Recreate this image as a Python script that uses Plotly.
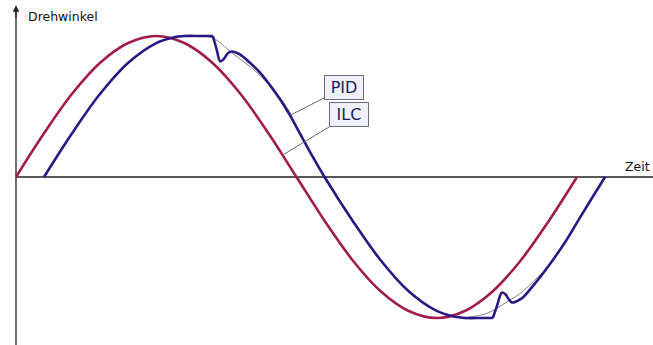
import numpy as np
import plotly.graph_objects as go

# ---------------- data (time as fraction of one period, angle normalised) ----
# ILC response (red)
t_ilc = [0.00, 0.05, 0.10, 0.15, 0.20, 0.25, 0.30, 0.35, 0.40, 0.45, 0.50,
         0.55, 0.60, 0.65, 0.70, 0.75, 0.80, 0.85, 0.90, 0.95, 1.00]
y_ilc = [0.00, 0.31, 0.59, 0.81, 0.95, 1.00, 0.95, 0.81, 0.59, 0.31, 0.00,
         -0.31, -0.59, -0.81, -0.95, -1.00, -0.95, -0.81, -0.59, -0.31, 0.00]

# PID response (blue) - rising part up to the end of the saturated top
t_pid_a = [0.05, 0.10, 0.15, 0.20, 0.25, 0.28, 0.30, 0.33, 0.351]
y_pid_a = [0.00, 0.31, 0.59, 0.81, 0.95, 0.99, 1.00, 1.00, 1.00]

# PID - drop, overshoot, descent and saturated bottom
t_pid_b = [0.351, 0.358, 0.364, 0.371, 0.378, 0.385, 0.399, 0.417, 0.435,
           0.453, 0.471, 0.488, 0.506, 0.528, 0.550, 0.600, 0.650, 0.700,
           0.750, 0.780, 0.800, 0.830, 0.850]
y_pid_b = [1.00, 0.90, 0.82, 0.84, 0.88, 0.89, 0.87, 0.81, 0.74,
           0.65, 0.55, 0.44, 0.31, 0.15, 0.00, -0.31, -0.59, -0.81,
           -0.95, -0.99, -1.00, -1.00, -1.00]

# PID - overshoot after bottom and final rise
t_pid_c = [0.850, 0.857, 0.863, 0.866, 0.872, 0.879, 0.884, 0.893, 0.902,
           0.922, 0.943, 0.964, 0.984, 1.005, 1.027, 1.050]
y_pid_c = [-1.00, -0.92, -0.84, -0.82, -0.83, -0.87, -0.89, -0.88, -0.86,
           -0.77, -0.665, -0.55, -0.43, -0.29, -0.147, 0.00]

# thin grey guide curves (smooth path without overshoot)
t_guide_top = [0.324, 0.351, 0.385, 0.435, 0.480, 0.492]
y_guide_top = [1.00, 0.985, 0.88, 0.72, 0.51, 0.43]
t_guide_bot = [0.806, 0.841, 0.872, 0.902, 0.925, 0.948]
y_guide_bot = [-0.995, -0.965, -0.894, -0.816, -0.730, -0.640]

x_label = "Zeit"
y_label = "Drehwinkel"
labels = ["PID", "ILC"]

# ---------------- styling ----------------
RED = "#a01c4b"
BLUE = "#2b1784"
GREY = "#808080"
AXIS = "#222222"

X_RANGE = [-0.0285, 1.1355]
Y_RANGE = [-1.1915, 1.2553]

fig = go.Figure()

for tx, ty in [(t_guide_top, y_guide_top), (t_guide_bot, y_guide_bot)]:
    fig.add_trace(go.Scatter(x=tx, y=ty, mode="lines",
                             line=dict(color=GREY, width=1, shape="spline"),
                             hoverinfo="skip"))

fig.add_trace(go.Scatter(x=t_ilc, y=y_ilc, mode="lines",
                         line=dict(color=RED, width=2.6, shape="spline")))

for tx, ty in [(t_pid_a, y_pid_a), (t_pid_b, y_pid_b), (t_pid_c, y_pid_c)]:
    fig.add_trace(go.Scatter(x=tx, y=ty, mode="lines",
                             line=dict(color=BLUE, width=2.6, shape="spline")))

# axes drawn as lines
fig.add_shape(type="line", xref="x", yref="y", x0=0, x1=X_RANGE[1], y0=0, y1=0,
              line=dict(color=AXIS, width=1.3), layer="below")
fig.add_shape(type="line", xref="x", yref="paper", x0=0, x1=0, y0=0, y1=0.975,
              line=dict(color=AXIS, width=1.3), layer="below")
fig.add_annotation(x=0, y=0.985, xref="x", yref="paper", ax=0, ay=14,
                   showarrow=True, arrowhead=2, arrowsize=1, arrowwidth=1.3,
                   arrowcolor=AXIS, text="")

font_family = "DejaVu Sans"
fig.add_annotation(x=0.017, y=1 - 17 / 345, xref="x", yref="paper",
                   text=y_label, showarrow=False, xanchor="left", yanchor="middle",
                   font=dict(family=font_family, size=12.5, color="#111111"))
fig.add_annotation(x=0.999, y=1 - 166 / 345, xref="paper", yref="paper",
                   text=x_label, showarrow=False, xanchor="right", yanchor="middle",
                   font=dict(family=font_family, size=12.5, color="#111111"))

# label boxes with leader lines
pid_t = 0.4884
pid_y = float(np.interp(pid_t, t_pid_b, y_pid_b))
ilc_t = 0.475
ilc_y = float(np.interp(ilc_t, t_ilc, y_ilc))
for txt, ax_t, ax_y, dx, dy in [(labels[0], pid_t, pid_y, 54, -27.5),
                                (labels[1], ilc_t, ilc_y, 67, -40.5)]:
    fig.add_annotation(x=ax_t, y=ax_y, xref="x", yref="y", text=txt,
                       showarrow=True, arrowhead=0, arrowwidth=1,
                       arrowcolor="#666666", ax=dx, ay=dy,
                       width=36, height=21, borderpad=1,
                       bgcolor="#f0f0fa", bordercolor="#6a6a80", borderwidth=1,
                       font=dict(family=font_family, size=16, color="#1c1c5c"))

fig.update_layout(
    width=653, height=345,
    margin=dict(l=0, r=0, t=0, b=0),
    paper_bgcolor="white", plot_bgcolor="white",
    showlegend=False,
    xaxis=dict(range=X_RANGE, visible=False, fixedrange=True),
    yaxis=dict(range=Y_RANGE, visible=False, fixedrange=True),
)

fig.write_html("out.html", config={"displayModeBar": False},
               post_script="document.body.style.margin='0';"
                           "document.body.style.overflow='hidden';")
